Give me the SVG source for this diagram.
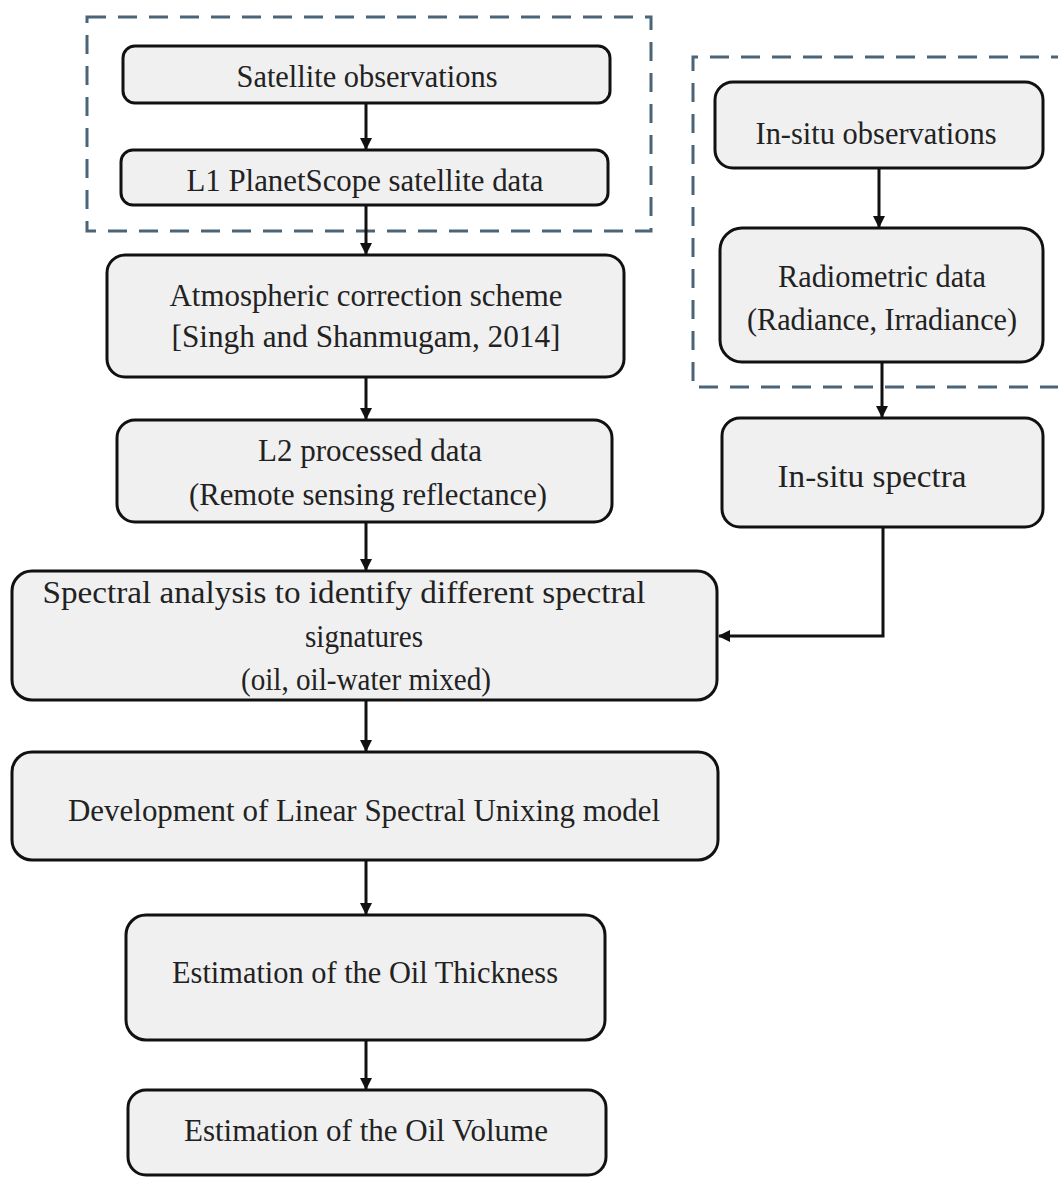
<svg xmlns="http://www.w3.org/2000/svg" width="1058" height="1182" viewBox="0 0 1058 1182">
<style>
.node{fill:#f0f0f0;stroke:#111;stroke-width:3}
.grp{fill:none;stroke:#4a6479;stroke-width:3;stroke-dasharray:19 12}
.t{font-family:"Liberation Serif","Times New Roman",serif;font-size:32px;fill:#222;text-anchor:middle}
.c{fill:none;stroke:#111;stroke-width:3}
</style>
<defs>
<marker id="ah" markerWidth="12" markerHeight="12" refX="11" refY="6" orient="auto" markerUnits="userSpaceOnUse">
<path d="M0,0 L12,6 L0,12 z" fill="#111"/>
</marker>
</defs>
<rect width="1058" height="1182" fill="#fff"/>
<g id="groups">
<rect class="grp" x="87" y="17" width="564" height="214"/>
<path class="grp" d="M1070,57 H693 V387 H1070"/>
</g>
<g id="connectors">
<line class="c" x1="366" y1="103" x2="366" y2="149" marker-end="url(#ah)"/>
<line class="c" x1="366" y1="205" x2="366" y2="254" marker-end="url(#ah)"/>
<line class="c" x1="366" y1="377" x2="366" y2="419" marker-end="url(#ah)"/>
<line class="c" x1="366" y1="522" x2="366" y2="570" marker-end="url(#ah)"/>
<line class="c" x1="366" y1="700" x2="366" y2="751" marker-end="url(#ah)"/>
<line class="c" x1="366" y1="860" x2="366" y2="914" marker-end="url(#ah)"/>
<line class="c" x1="366" y1="1040" x2="366" y2="1089" marker-end="url(#ah)"/>
<line class="c" x1="879" y1="168" x2="879" y2="227" marker-end="url(#ah)"/>
<line class="c" x1="882" y1="362" x2="882" y2="417" marker-end="url(#ah)"/>
<path class="c" d="M883,527 V636 H719" marker-end="url(#ah)"/>
</g>
<g id="n1">
<rect class="node" x="123" y="46" width="487" height="57" rx="12"/>
<text class="t" x="367" y="87" textLength="261" lengthAdjust="spacingAndGlyphs">Satellite observations</text>
</g>
<g id="n2">
<rect class="node" x="121" y="150" width="487" height="55" rx="12"/>
<text class="t" x="365" y="191" textLength="357" lengthAdjust="spacingAndGlyphs">L1 PlanetScope satellite data</text>
</g>
<g id="n3">
<rect class="node" x="107" y="255" width="517" height="122" rx="18"/>
<text class="t" x="366" y="306" textLength="393" lengthAdjust="spacingAndGlyphs">Atmospheric correction scheme</text>
<text class="t" x="366" y="347" textLength="389" lengthAdjust="spacingAndGlyphs">[Singh and Shanmugam, 2014]</text>
</g>
<g id="n4">
<rect class="node" x="117" y="420" width="495" height="102" rx="18"/>
<text class="t" x="370" y="461" textLength="224" lengthAdjust="spacingAndGlyphs">L2 processed data</text>
<text class="t" x="368" y="505" textLength="358" lengthAdjust="spacingAndGlyphs">(Remote sensing reflectance)</text>
</g>
<g id="n5">
<rect class="node" x="12" y="571" width="705" height="129" rx="20"/>
<text class="t" x="344" y="603" textLength="603" lengthAdjust="spacingAndGlyphs">Spectral analysis to identify different spectral</text>
<text class="t" x="364" y="647" textLength="118" lengthAdjust="spacingAndGlyphs">signatures</text>
<text class="t" x="366" y="690" textLength="250" lengthAdjust="spacingAndGlyphs">(oil, oil-water mixed)</text>
</g>
<g id="n6">
<rect class="node" x="12" y="752" width="706" height="108" rx="20"/>
<text class="t" x="364" y="821" textLength="592" lengthAdjust="spacingAndGlyphs">Development of Linear Spectral Unixing model</text>
</g>
<g id="n7">
<rect class="node" x="126" y="915" width="479" height="125" rx="20"/>
<text class="t" x="365" y="983" textLength="386" lengthAdjust="spacingAndGlyphs">Estimation of the Oil Thickness</text>
</g>
<g id="n8">
<rect class="node" x="128" y="1090" width="478" height="85" rx="18"/>
<text class="t" x="366" y="1141" textLength="364" lengthAdjust="spacingAndGlyphs">Estimation of the Oil Volume</text>
</g>
<g id="n9">
<rect class="node" x="715" y="82" width="328" height="86" rx="18"/>
<text class="t" x="876" y="144" textLength="241" lengthAdjust="spacingAndGlyphs">In-situ observations</text>
</g>
<g id="n10">
<rect class="node" x="720" y="228" width="323" height="134" rx="22"/>
<text class="t" x="882" y="287" textLength="208" lengthAdjust="spacingAndGlyphs">Radiometric data</text>
<text class="t" x="882" y="330" textLength="270" lengthAdjust="spacingAndGlyphs">(Radiance, Irradiance)</text>
</g>
<g id="n11">
<rect class="node" x="722" y="418" width="321" height="109" rx="18"/>
<text class="t" x="872" y="487" textLength="189" lengthAdjust="spacingAndGlyphs">In-situ spectra</text>
</g>
</svg>
